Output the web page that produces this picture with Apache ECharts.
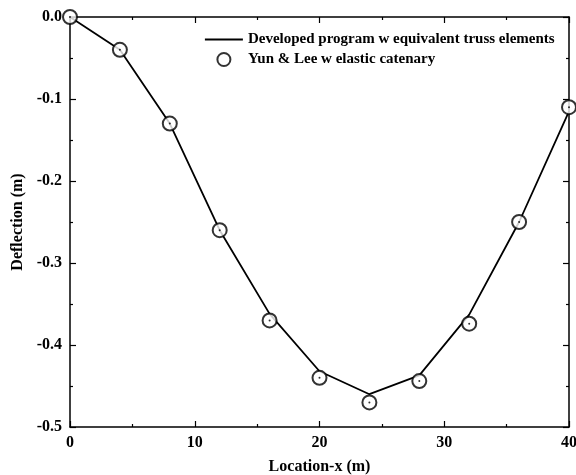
<!DOCTYPE html>
<html>
<head>
<meta charset="utf-8">
<script src="https://cdn.jsdelivr.net/npm/echarts@6/dist/echarts.min.js"></script>
<style>
  html, body { margin: 0; padding: 0; background: #fff; }
  #chart { width: 576px; height: 475px; }
</style>
</head>
<body>
<div id="chart"></div>
<script>
// Location along the span (m)
const locations = [0, 4, 8, 12, 16, 20, 24, 28, 32, 36, 40];
// Deflection from the developed program (equivalent truss elements)
const developedDeflection = [0, -0.04, -0.13, -0.26, -0.362, -0.432, -0.46, -0.437, -0.363, -0.25, -0.115];
// Deflection reported by Yun & Lee (elastic catenary)
const yunLeeDeflection = [0, -0.04, -0.13, -0.26, -0.37, -0.44, -0.47, -0.444, -0.374, -0.25, -0.11];

const xTicks = { min: 0, max: 40, interval: 10 };
const yTicks = { min: -0.5, max: 0, interval: 0.1 };

const font = 'Liberation Serif, Times New Roman, serif';
const pair = (xs, ys) => xs.map((x, i) => [x, ys[i]]);

const chart = echarts.init(document.getElementById('chart'));

const axisLine = { show: true, onZero: false, lineStyle: { color: '#000', width: 1.5 } };
const axisTick = { show: true, inside: true, length: 6, lineStyle: { color: '#000', width: 1.2 } };
const minorTick = { show: true, splitNumber: 2, length: 3, lineStyle: { color: '#000', width: 1.2 } };
const labelStyle = { color: '#000', fontFamily: font, fontWeight: 'bold', fontSize: 16 };
const nameStyle = { color: '#000', fontFamily: font, fontWeight: 'bold', fontSize: 16 };

chart.setOption({
  animation: false,
  backgroundColor: '#fff',
  grid: { left: 70, right: 7, top: 17, bottom: 48, outerBoundsMode: 'none', containLabel: false },
  legend: {
    orient: 'vertical',
    left: 199,
    top: 27,
    itemGap: 5,
    itemWidth: 38,
    itemHeight: 13,
    textStyle: { color: '#000', fontFamily: font, fontWeight: 'bold', fontSize: 15 },
    data: [
      {
        name: 'Developed program w equivalent truss elements',
        itemStyle: { opacity: 0 },
        lineStyle: { color: '#000', width: 1.8 }
      },
      'Yun & Lee w elastic catenary'
    ]
  },
  xAxis: [
    {
      type: 'value', position: 'bottom',
      min: xTicks.min, max: xTicks.max, interval: xTicks.interval,
      name: 'Location-x (m)', nameLocation: 'middle', nameGap: 32,
      nameTextStyle: nameStyle,
      axisLine, axisTick, minorTick,
      axisLabel: Object.assign({ margin: 8 }, labelStyle),
      splitLine: { show: false }
    },
    {
      type: 'value', position: 'top',
      min: xTicks.min, max: xTicks.max, interval: xTicks.interval,
      axisLine, axisTick, minorTick,
      axisLabel: { show: false }, splitLine: { show: false }
    }
  ],
  yAxis: [
    {
      type: 'value', position: 'left',
      min: yTicks.min, max: yTicks.max, interval: yTicks.interval,
      name: 'Deflection (m)', nameLocation: 'middle', nameGap: 39,
      nameTextStyle: nameStyle,
      axisLine, axisTick, minorTick,
      axisLabel: Object.assign({ margin: 8, formatter: v => (v === 0 ? '0.0' : v.toFixed(1)) }, labelStyle),
      splitLine: { show: false }
    },
    {
      type: 'value', position: 'right',
      min: yTicks.min, max: yTicks.max, interval: yTicks.interval,
      axisLine, axisTick, minorTick,
      axisLabel: { show: false }, splitLine: { show: false }
    }
  ],
  series: [
    {
      name: 'Developed program w equivalent truss elements',
      type: 'line',
      data: pair(locations, developedDeflection),
      showSymbol: false,
      symbol: 'none',
      lineStyle: { color: '#000', width: 1.8 },
      itemStyle: { color: '#000' },
      z: 2
    },
    {
      name: 'Yun & Lee w elastic catenary',
      type: 'scatter',
      data: pair(locations, yunLeeDeflection),
      symbol: 'circle',
      symbolSize: 14,
      itemStyle: { color: '#fff', borderColor: '#000', borderWidth: 2 },
      z: 3
    },
    {
      name: 'centre dots',
      type: 'scatter',
      data: pair(locations, yunLeeDeflection),
      symbol: 'circle',
      symbolSize: 2,
      itemStyle: { color: '#000' },
      silent: true,
      z: 4
    }
  ]
});
</script>
</body>
</html>
